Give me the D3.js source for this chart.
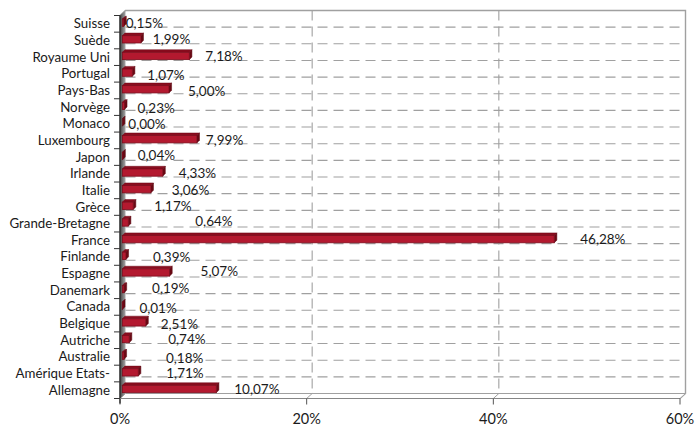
<!DOCTYPE html>
<html>
<head>
<meta charset="utf-8">
<script src="https://cdn.jsdelivr.net/npm/d3@7"></script>
<style>
  html, body { margin: 0; padding: 0; background: #fff; }
  svg text { font-family: Lato, "Open Sans", sans-serif; fill: #1a1a1a; }
</style>
</head>
<body>
<div id="chart"></div>
<script>
// pays, du haut vers le bas
const categories = ['Suisse', 'Suède', 'Royaume Uni', 'Portugal', 'Pays-Bas', 'Norvège', 'Monaco',
    'Luxembourg', 'Japon', 'Irlande', 'Italie', 'Grèce', 'Grande-Bretagne', 'France', 'Finlande',
    'Espagne', 'Danemark', 'Canada', 'Belgique', 'Autriche', 'Australie', 'Amérique Etats-', 'Allemagne'];
const values = [0.15, 1.99, 7.18, 1.07, 5.00, 0.23, 0.00,
    7.99, 0.04, 4.33, 3.06, 1.17, 0.64, 46.28, 0.39,
    5.07, 0.19, 0.01, 2.51, 0.74, 0.18, 1.71, 10.07];
const xTicks = [0, 20, 40, 60];

// placement manuel des étiquettes (décalage par rapport au bout de la barre)
const labelShift = {
    'Suisse': [2, 0], 'Suède': [12, -1], 'Royaume Uni': [16, 0], 'Portugal': [15, 2],
    'Pays-Bas': [19, 1], 'Norvège': [13, 2], 'Monaco': [6, 1], 'Luxembourg': [9, 0],
    'Japon': [15, -1], 'Irlande': [16, 0], 'Italie': [21, 0], 'Grèce': [21, 0],
    'Grande-Bretagne': [67, -2], 'France': [26, -1], 'Finlande': [27, 1], 'Espagne': [31, -2],
    'Danemark': [28, -1], 'Canada': [17, 1.5], 'Belgique': [15, 1], 'Autriche': [39, -0.5],
    'Australie': [42, 1.5], 'Amérique Etats-': [28, 0], 'Allemagne': [18, 0]
};

const width = 695, height = 426;
const depth = { dx: 5.5, dy: 5 };      // profondeur des murs
const barOff = { dx: 2.3, dy: -1.8 };   // position des barres dans la profondeur

const svg = d3.select('#chart').append('svg')
    .attr('width', width)
    .attr('height', height);

const x = d3.scaleLinear().domain([0, 60]).range([120, 680]);
const y = d3.scaleBand().domain(categories).range([15.5, 398.5]);
const bw = y.bandwidth();
const yTop = y.range()[0], yBot = y.range()[1];

// ---- murs ----
const defs = svg.append('defs');
const wallGrad = defs.append('linearGradient').attr('id', 'wallGrad');
wallGrad.append('stop').attr('offset', '0%').attr('stop-color', '#444');
wallGrad.append('stop').attr('offset', '100%').attr('stop-color', '#a8a8a8');

// mur du fond
svg.append('path')
    .attr('d', `M${x(0) + depth.dx},${yTop - depth.dy} H${x(60) + depth.dx} V${yBot - depth.dy} H${x(0) + depth.dx} Z`)
    .attr('fill', '#fff');
svg.append('path')
    .attr('d', `M${x(0)},${yTop} L${x(0) + depth.dx},${yTop - depth.dy} H${x(60) + depth.dx} V${yBot - depth.dy} L${x(60)},${yBot}`)
    .attr('fill', 'none')
    .attr('stroke', '#a0a0a0')
    .attr('stroke-width', 1.4);

// quadrillage horizontal (limites des catégories)
const bounds = categories.slice(1).map(c => y(c));
svg.append('g')
    .selectAll('line')
    .data(bounds)
    .join('line')
    .attr('x1', x(0) + depth.dx)
    .attr('x2', x(60) + depth.dx)
    .attr('y1', d => d - depth.dy)
    .attr('y2', d => d - depth.dy)
    .attr('stroke', '#a0a0a0')
    .attr('stroke-width', 1.1)
    .attr('stroke-dasharray', '10,6');

// quadrillage vertical
svg.append('g')
    .selectAll('line')
    .data(xTicks.slice(1, -1))
    .join('line')
    .attr('x1', d => x(d) + depth.dx)
    .attr('x2', d => x(d) + depth.dx)
    .attr('y1', yTop - depth.dy)
    .attr('y2', yBot - depth.dy)
    .attr('stroke', '#a0a0a0')
    .attr('stroke-width', 1.1)
    .attr('stroke-dasharray', '10,6');

// sol
svg.append('path')
    .attr('d', `M${x(0)},${yBot} H${x(60)} L${x(60) + depth.dx},${yBot - depth.dy} H${x(0) + depth.dx} Z`)
    .attr('fill', '#fff')
    .attr('stroke', '#a0a0a0');
svg.append('g')
    .selectAll('line')
    .data(xTicks.slice(1, -1))
    .join('line')
    .attr('x1', d => x(d))
    .attr('x2', d => x(d) + depth.dx)
    .attr('y1', yBot)
    .attr('y2', yBot - depth.dy)
    .attr('stroke', '#a0a0a0');

// mur de gauche
svg.append('path')
    .attr('d', `M${x(0)},${yTop} L${x(0) + depth.dx},${yTop - depth.dy} V${yBot - depth.dy} L${x(0)},${yBot} Z`)
    .attr('fill', 'url(#wallGrad)');

// ---- barres 3D ----
const data = categories.map((c, i) => ({ cat: c, value: values[i] }));
const bars = svg.append('g')
    .selectAll('g')
    .data(data)
    .join('g');

const geo = d => {
    const x0 = x(0) + barOff.dx, x1 = x(d.value) + barOff.dx;
    const c = y(d.cat) + bw / 2 + barOff.dy;
    return { x0, x1, t: c - 3, b: c + 4.3, c };
};
const k = 2.6; // profondeur des barres

bars.append('path') // dessus
    .attr('d', d => {
        const g = geo(d);
        return `M${g.x0},${g.t} L${g.x0 + k},${g.t - k} H${g.x1 + k} L${g.x1},${g.t} Z`;
    })
    .attr('fill', '#8a0d1f')
    .attr('stroke', '#6e0916')
    .attr('stroke-width', 0.5);

bars.append('path') // côté
    .attr('d', d => {
        const g = geo(d);
        return `M${g.x1},${g.t} L${g.x1 + k},${g.t - k} V${g.b - k} L${g.x1},${g.b} Z`;
    })
    .attr('fill', '#6a0914')
    .attr('stroke', '#5a0711')
    .attr('stroke-width', 0.5);

bars.append('rect') // face
    .attr('x', d => geo(d).x0)
    .attr('y', d => geo(d).t)
    .attr('width', d => geo(d).x1 - geo(d).x0)
    .attr('height', d => geo(d).b - geo(d).t)
    .attr('fill', '#b3192f')
    .attr('stroke', '#7c0b1b')
    .attr('stroke-width', 0.8);

// étiquettes de données
svg.append('g')
    .selectAll('text')
    .data(data)
    .join('text')
    .attr('x', d => geo(d).x1 + labelShift[d.cat][0])
    .attr('y', d => geo(d).c + 1 + labelShift[d.cat][1])
    .attr('dominant-baseline', 'central')
    .attr('font-size', 13.5)
    .text(d => d.value.toFixed(2).replace('.', ',') + '%');

// ---- axes ----
// axe des catégories
svg.append('line')
    .attr('x1', x(0)).attr('x2', x(0))
    .attr('y1', yTop).attr('y2', yBot + 5)
    .attr('stroke', '#333')
    .attr('stroke-width', 1.6);
svg.append('g')
    .selectAll('line')
    .data(categories.map(c => y(c)).concat([yBot]))
    .join('line')
    .attr('x1', x(0) - 6).attr('x2', x(0))
    .attr('y1', d => d).attr('y2', d => d)
    .attr('stroke', '#333');
svg.append('g')
    .selectAll('text')
    .data(categories)
    .join('text')
    .attr('x', 110)
    .attr('y', d => y(d) + bw / 2 - 0.5)
    .attr('text-anchor', 'end')
    .attr('dominant-baseline', 'central')
    .attr('font-size', 13.3)
    .text(d => d);

// axe des valeurs
svg.append('line')
    .attr('x1', x(0)).attr('x2', x(60))
    .attr('y1', yBot).attr('y2', yBot)
    .attr('stroke', '#868686');
svg.append('g')
    .selectAll('line')
    .data(xTicks)
    .join('line')
    .attr('x1', d => x(d)).attr('x2', d => x(d))
    .attr('y1', yBot).attr('y2', yBot + 6)
    .attr('stroke', '#555');
svg.append('g')
    .selectAll('text')
    .data(xTicks)
    .join('text')
    .attr('x', d => x(d))
    .attr('y', 418)
    .attr('text-anchor', 'middle')
    .attr('dominant-baseline', 'central')
    .attr('font-size', 14.5)
    .text(d => d + '%');
</script>
</body>
</html>
